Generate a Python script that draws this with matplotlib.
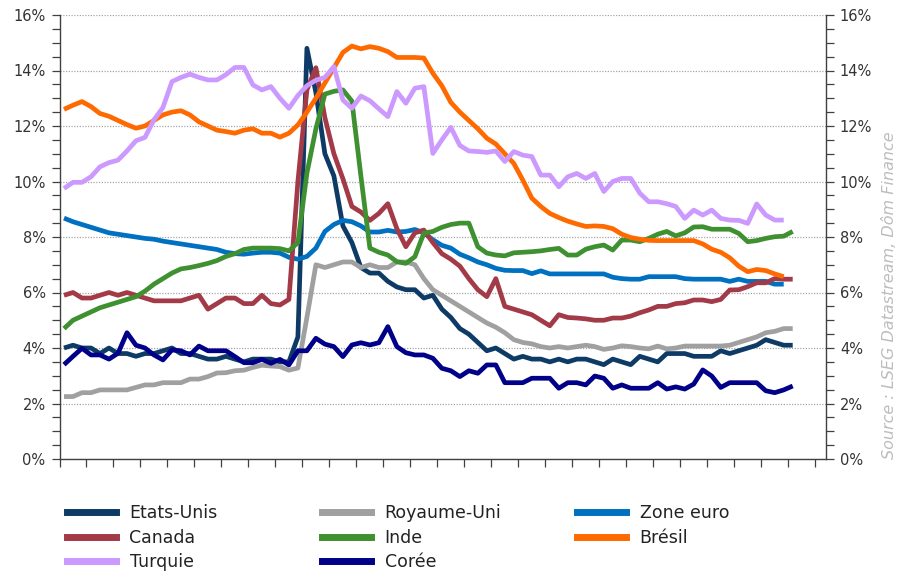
import numpy as np
import matplotlib
matplotlib.use("Agg")
import matplotlib.pyplot as plt
from matplotlib.lines import Line2D

# ---- data: monthly unemployment rates (%), starting January 2018 ----
etats_unis = [4.0,4.1,4.0,4.0,3.8,4.0,3.8,3.8,3.7,3.8,3.8,3.9,
              4.0,3.8,3.8,3.7,3.6,3.6,3.7,3.6,3.5,3.6,3.6,3.6,
              3.5,3.5,4.4,14.8,13.2,11.0,10.2,8.4,7.8,6.9,6.7,6.7,
              6.4,6.2,6.1,6.1,5.8,5.9,5.4,5.1,4.7,4.5,4.2,3.9,
              4.0,3.8,3.6,3.7,3.6,3.6,3.5,3.6,3.5,3.6,3.6,3.5,
              3.4,3.6,3.5,3.4,3.7,3.6,3.5,3.8,3.8,3.8,3.7,3.7,
              3.7,3.9,3.8,3.9,4.0,4.1,4.3,4.2,4.1,4.1]
royaume_uni = [2.25,2.25,2.39,2.39,2.49,2.49,2.49,2.49,2.58,2.67,2.67,2.75,
               2.75,2.75,2.88,2.88,2.97,3.1,3.11,3.18,3.2,3.3,3.38,3.35,
               3.33,3.2,3.28,5.1,7.0,6.9,7.0,7.1,7.1,6.9,7.0,6.9,
               6.9,7.1,7.1,7.0,6.5,6.1,5.9,5.7,5.5,5.3,5.1,4.9,
               4.75,4.55,4.3,4.2,4.15,4.05,4.0,4.05,4.0,4.05,4.1,4.05,
               3.95,4.0,4.08,4.05,4.0,3.97,4.07,3.97,4.0,4.07,4.07,4.07,
               4.07,4.07,4.1,4.2,4.3,4.4,4.55,4.6,4.7,4.7]
zone_euro = [8.68,8.55,8.45,8.35,8.25,8.15,8.1,8.05,8.0,7.95,7.92,7.85,
             7.8,7.75,7.7,7.65,7.6,7.55,7.45,7.4,7.38,7.42,7.45,7.45,
             7.42,7.27,7.2,7.3,7.6,8.2,8.45,8.6,8.55,8.4,8.18,8.18,
             8.24,8.18,8.2,8.27,8.15,7.9,7.7,7.6,7.38,7.25,7.1,7.0,
             6.87,6.8,6.79,6.79,6.68,6.78,6.67,6.67,6.67,6.67,6.67,6.67,
             6.67,6.55,6.5,6.48,6.48,6.57,6.57,6.57,6.57,6.5,6.48,6.48,
             6.48,6.48,6.4,6.48,6.4,6.4,6.4,6.3,6.3]
canada = [5.9,6.0,5.8,5.8,5.9,6.0,5.9,6.0,5.9,5.8,5.7,5.7,
          5.7,5.7,5.8,5.9,5.4,5.6,5.8,5.8,5.6,5.6,5.9,5.6,
          5.55,5.75,10.0,13.3,14.1,12.3,11.0,10.1,9.1,8.9,8.6,8.85,
          9.2,8.3,7.65,8.15,8.25,7.8,7.4,7.2,6.95,6.5,6.1,5.85,
          6.5,5.5,5.4,5.3,5.2,5.0,4.8,5.2,5.1,5.08,5.05,5.0,
          5.0,5.08,5.08,5.15,5.27,5.37,5.5,5.5,5.6,5.63,5.73,5.73,
          5.67,5.75,6.09,6.1,6.21,6.35,6.35,6.5,6.48,6.48]
inde = [4.7,5.0,5.15,5.3,5.45,5.55,5.65,5.75,5.85,6.05,6.3,6.5,
        6.7,6.85,6.9,6.97,7.05,7.15,7.3,7.4,7.55,7.6,7.6,7.6,
        7.58,7.5,7.8,10.3,11.9,13.15,13.25,13.3,12.9,10.2,7.6,7.45,
        7.35,7.11,7.05,7.29,8.14,8.2,8.35,8.45,8.5,8.5,7.65,7.42,
        7.35,7.32,7.43,7.45,7.47,7.5,7.55,7.59,7.35,7.35,7.56,7.65,
        7.71,7.53,7.89,7.89,7.83,7.95,8.1,8.2,8.04,8.15,8.36,8.37,
        8.28,8.28,8.28,8.13,7.83,7.87,7.95,8.01,8.03,8.2]
bresil = [12.6,12.75,12.88,12.7,12.45,12.35,12.2,12.05,11.92,12.0,12.2,12.4,
          12.5,12.55,12.4,12.15,12.0,11.85,11.8,11.74,11.85,11.9,11.74,11.74,
          11.6,11.74,12.04,12.5,13.0,13.55,14.1,14.65,14.88,14.78,14.86,14.8,
          14.68,14.47,14.47,14.47,14.45,13.9,13.45,12.85,12.5,12.2,11.9,11.56,
          11.35,11.0,10.65,10.05,9.4,9.1,8.85,8.7,8.57,8.47,8.38,8.4,
          8.38,8.3,8.1,7.98,7.92,7.88,7.87,7.87,7.87,7.87,7.87,7.75,
          7.56,7.45,7.25,6.95,6.75,6.83,6.79,6.67,6.57]
turquie = [9.75,9.97,9.97,10.17,10.53,10.68,10.77,11.1,11.47,11.59,12.22,12.67,
           13.6,13.75,13.87,13.75,13.66,13.66,13.85,14.11,14.11,13.48,13.3,13.42,
           13.0,12.64,13.1,13.45,13.65,13.75,14.14,12.94,12.64,13.08,12.91,12.62,
           12.34,13.24,12.82,13.36,13.42,11.01,11.5,11.95,11.3,11.1,11.08,11.05,
           11.1,10.72,11.08,10.95,10.9,10.23,10.23,9.81,10.17,10.29,10.11,10.29,
           9.64,10.0,10.11,10.11,9.58,9.27,9.27,9.2,9.1,8.67,8.97,8.79,
           8.97,8.67,8.61,8.6,8.49,9.19,8.79,8.61,8.61]
coree = [3.4,3.7,3.99,3.75,3.75,3.6,3.81,4.55,4.1,4.0,3.75,3.57,
         3.93,3.9,3.75,4.07,3.9,3.9,3.9,3.69,3.47,3.47,3.59,3.45,
         3.59,3.39,3.9,3.9,4.35,4.14,4.05,3.69,4.11,4.19,4.11,4.19,
         4.77,4.05,3.83,3.75,3.75,3.63,3.27,3.18,2.97,3.18,3.09,3.39,
         3.39,2.75,2.75,2.75,2.91,2.91,2.91,2.55,2.75,2.75,2.67,2.99,
         2.91,2.55,2.67,2.55,2.55,2.55,2.75,2.52,2.6,2.52,2.7,3.21,
         2.99,2.58,2.75,2.75,2.75,2.75,2.46,2.39,2.49,2.63]

series_names = ["Etats-Unis", "Royaume-Uni", "Zone euro", "Canada", "Inde",
                "Brésil", "Turquie", "Corée"]
series_values = [etats_unis, royaume_uni, zone_euro, canada, inde, bresil,
                 turquie, coree]
series_colors = ["#0D3B66", "#A0A0A0", "#0070C0", "#A33A48", "#3E9030",
                 "#FF6A00", "#CC99FF", "#000088"]
year_labels = ["2018", "2019", "2020", "2021", "2022", "2023", "2024"]
y_ticks = [0, 2, 4, 6, 8, 10, 12, 14, 16]
source_text = "Source : LSEG Datastream, Dôm Finance"

# ---- figure ----
fig = plt.figure(figsize=(9.01, 5.73), dpi=100)
ax = fig.add_axes([59.5 / 901, 1 - 459 / 573, (826 - 59.5) / 901, (459 - 15) / 573])

for name, vals, col in zip(series_names, series_values, series_colors):
    x = np.arange(len(vals)) + 0.5  # months since Jan 2018, mid-month
    ax.plot(x, vals, color=col, lw=3.4, solid_joinstyle="round",
            solid_capstyle="butt", label=name)

ax.set_xlim(0, 85.2)
ax.set_ylim(0, 16)

# y axis
ax.set_yticks(y_ticks)
ax.set_yticklabels([f"{v}%" for v in y_ticks])
ax.set_yticks(np.arange(0, 16.01, 0.5), minor=True)
ax.tick_params(axis="y", which="both", left=True, right=True, labelleft=True,
               labelright=True, direction="out", length=6, width=0.9,
               color="#404040", labelsize=10.5, labelcolor="#333333", pad=4)
ax.yaxis.grid(True, which="major", linestyle=(0, (1, 1.2)), color="#a6a6a6", lw=0.9)
ax.set_axisbelow(True)

# x axis: quarterly ticks, year labels centred on mid-year
ax.set_xticks(np.arange(0, 85, 3))
ax.set_xticklabels([])
ax.set_xticks([6 + 12 * i for i in range(len(year_labels))], minor=True)
ax.set_xticklabels(year_labels, minor=True, fontweight="bold", fontsize=10,
                   color="#333333")
ax.tick_params(axis="x", which="major", direction="out", length=6, width=0.9,
               color="#404040")
ax.tick_params(axis="x", which="minor", length=0, pad=12)

for side in ["left", "right", "bottom"]:
    ax.spines[side].set_color("#404040")
    ax.spines[side].set_linewidth(1.0)
ax.spines["top"].set_visible(False)

# source
fig.text(890 / 901, 1 - 295 / 573, source_text, rotation=90, ha="center",
         va="center", fontsize=11.5, style="italic", color="#BDBDBD")

# legend: three columns laid out row-wise
col_x = [67 / 901, 322 / 901, 577 / 901]
order = [[0, 3, 6], [1, 4, 7], [2, 5]]
for cx, idxs in zip(col_x, order):
    handles = [Line2D([0], [0], color=series_colors[i], lw=5) for i in idxs]
    labels = [series_names[i] for i in idxs]
    fig.legend(handles, labels, loc="upper left",
               bbox_to_anchor=(cx, 1 - 504 / 573), frameon=False,
               fontsize=12.5, handlelength=2.85, handletextpad=0.75,
               labelspacing=0.38, borderaxespad=0, borderpad=0,
               labelcolor="#222222")

fig.savefig("out.png", dpi=100, facecolor="white")
